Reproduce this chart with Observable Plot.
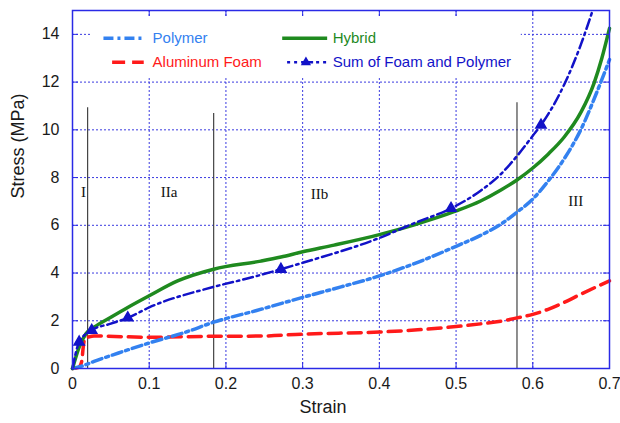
<!DOCTYPE html>
<html><head><meta charset="utf-8">
<script src="https://cdn.jsdelivr.net/npm/d3@7"></script>
<script src="https://cdn.jsdelivr.net/npm/@observablehq/plot@0.6"></script>
<style>body{margin:0;background:#fff} svg{display:block}</style>
</head><body><div id="chart"></div>
<script>
// ---- data ----
const xTicks = [0, 0.1, 0.2, 0.3, 0.4, 0.5, 0.6, 0.7];
const yTicks = [0, 2, 4, 6, 8, 10, 12, 14];

const polymerStrain = [0, 0.012, 0.03, 0.06, 0.1, 0.15, 0.184, 0.24, 0.3, 0.35, 0.4, 0.45, 0.5, 0.532, 0.5585, 0.5794, 0.6, 0.62, 0.641, 0.663, 0.685, 0.7];
const polymerStress = [0, 0.1, 0.32, 0.65, 1.07, 1.55, 1.94, 2.43, 2.98, 3.42, 3.88, 4.45, 5.12, 5.58, 6.05, 6.55, 7.1, 7.85, 8.79, 10.03, 11.7, 12.94];

const foamStrain = [0, 0.008, 0.012, 0.014, 0.016, 0.022, 0.028, 0.1, 0.184, 0.2456, 0.3, 0.4, 0.45, 0.5, 0.532, 0.5585, 0.5794, 0.6, 0.62, 0.641, 0.663, 0.7];
const foamStress = [0, 0.05, 0.3, 0.9, 1.25, 1.33, 1.36, 1.31, 1.35, 1.36, 1.44, 1.53, 1.62, 1.76, 1.87, 1.98, 2.12, 2.27, 2.48, 2.77, 3.12, 3.67];

const hybridStrain = [0, 0.0087, 0.0175, 0.028, 0.05, 0.072, 0.1, 0.137, 0.184, 0.2456, 0.2717, 0.3, 0.341, 0.4, 0.4456, 0.5, 0.532, 0.5585, 0.5794, 0.6, 0.62, 0.641, 0.663, 0.68, 0.69, 0.7];
const hybridStress = [0, 0.9, 1.46, 1.73, 2.15, 2.56, 3.05, 3.67, 4.16, 4.5, 4.67, 4.89, 5.17, 5.61, 6.02, 6.6, 7.02, 7.48, 7.9, 8.4, 8.98, 9.7, 10.75, 11.97, 13.0, 14.25];

const sumStrain = [0, 0.0087, 0.025, 0.05, 0.072, 0.1, 0.184, 0.2326, 0.2717, 0.3, 0.4, 0.4456, 0.4934, 0.532, 0.5585, 0.5794, 0.6, 0.6107, 0.641, 0.663, 0.678];
const sumStress = [0, 1.11, 1.6, 1.88, 2.12, 2.56, 3.42, 3.81, 4.16, 4.43, 5.47, 6.09, 6.71, 7.45, 8.15, 8.9, 9.75, 10.2, 11.9, 13.6, 15.0];

const sumMarkerStrain = [0.0087, 0.025, 0.072, 0.2717, 0.4934, 0.6107];
const sumMarkerStress = [1.11, 1.6, 2.12, 4.16, 6.71, 10.2];

const phaseStrain = [0.0197, 0.184, 0.5794];
const phaseTop = [10.93, 10.68, 11.14];

const regionLabels = ["I", "IIa", "IIb", "III"];
const regionStrain = [0.0145, 0.126, 0.322, 0.656];
const regionStress = [7.37, 7.37, 7.3, 7.0];

const seriesNames = ["Polymer", "Aluminum Foam", "Hybrid", "Sum of Foam and Polymer"];

// ---- styles ----
const colPolymer = "#3381f0", colFoam = "#ff1a1a", colHybrid = "#1f8a1f", colSum = "#1212c8";
const frameColor = "#2a2ae6", gridColor = "#3a3ae0";
const toRows = (xs, ys) => xs.map((x, i) => ({x, y: ys[i]}));

const W = 620, H = 423, mL = 72, mR = 11, mT = 10, mB = 55;
const innerW = W - mL - mR, innerH = H - mT - mB, tickLen = 6;

const legend = [
  {name: seriesNames[0], color: colPolymer, dash: "10,4,3,4", width: 3.5, x1: 0.041, x2: 0.0914, tx: 0.1044, y: 13.84},
  {name: seriesNames[1], color: colFoam, dash: "13,7", width: 3.5, x1: 0.0523, x2: 0.0935, tx: 0.1044, y: 12.83},
  {name: seriesNames[2], color: colHybrid, dash: null, width: 3.5, x1: 0.274, x2: 0.3326, tx: 0.3391, y: 13.84},
  {name: seriesNames[3], color: colSum, dash: "3,4,3,4,12,3", width: 2.5, x1: 0.2804, x2: 0.3326, tx: 0.3391, y: 12.83, marker: 0.3043}
];

const fmt = d => String(+d.toFixed(1));

const chart = Plot.plot({
  width: W, height: H,
  marginLeft: mL, marginRight: mR, marginTop: mT, marginBottom: mB,
  style: {fontFamily: "'Liberation Sans', Arial, Helvetica, sans-serif", fontSize: "16px", background: "white", color: "#1a1a1a"},
  x: {domain: [0, 0.7], ticks: xTicks, tickFormat: fmt, tickSize: 0, tickPadding: 9, label: null},
  y: {domain: [0, 15], ticks: yTicks, tickSize: 0, tickPadding: 13, label: null},
  marks: [
    Plot.ruleX(xTicks, {x: d => d, stroke: gridColor, strokeWidth: 1, strokeDasharray: "2,2"}),
    Plot.ruleY(yTicks, {y: d => d, stroke: gridColor, strokeWidth: 1, strokeDasharray: "2,2"}),
    Plot.rect([0], {x1: () => 0.026, x2: () => 0.585, y1: () => 12.15, y2: () => 14.72, fill: "white"}),
    Plot.ruleX(phaseStrain.map((s, i) => ({x: s, top: phaseTop[i]})), {x: "x", y1: () => 0, y2: "top", stroke: "#444", strokeWidth: 1.2}),
    Plot.line(toRows(foamStrain, foamStress), {x: "x", y: "y", stroke: colFoam, strokeWidth: 3.5, strokeDasharray: "13,7", curve: "monotone-x"}),
    Plot.line(toRows(polymerStrain, polymerStress), {x: "x", y: "y", stroke: colPolymer, strokeWidth: 3.5, strokeDasharray: "10,4,3,4", curve: "monotone-x"}),
    Plot.line(toRows(hybridStrain, hybridStress), {x: "x", y: "y", stroke: colHybrid, strokeWidth: 3.5, curve: "monotone-x"}),
    Plot.line(toRows(sumStrain, sumStress), {x: "x", y: "y", stroke: colSum, strokeWidth: 2.5, strokeDasharray: "10,4,2.5,4", curve: "monotone-x"}),
    Plot.dot(toRows(sumMarkerStrain, sumMarkerStress), {x: "x", y: "y", symbol: "triangle", r: 3.8, fill: colSum, stroke: colSum}),
    Plot.text(regionLabels.map((t, i) => ({t, x: regionStrain[i], y: regionStress[i]})), {x: "x", y: "y", text: "t", fontFamily: "'Liberation Serif', 'Times New Roman', serif", fontSize: 15, fill: "#111"}),
    Plot.frame({stroke: frameColor, strokeWidth: 1.5}),
    Plot.ruleX(xTicks, {x: d => d, insetTop: innerH - tickLen, stroke: frameColor, strokeWidth: 1}),
    Plot.ruleX(xTicks, {x: d => d, insetBottom: innerH - tickLen, stroke: frameColor, strokeWidth: 1}),
    Plot.ruleY(yTicks, {y: d => d, insetRight: innerW - tickLen, stroke: frameColor, strokeWidth: 1}),
    Plot.ruleY(yTicks, {y: d => d, insetLeft: innerW - tickLen, stroke: frameColor, strokeWidth: 1}),
    ...legend.flatMap(e => [
      Plot.ruleY([e], {y: "y", x1: "x1", x2: "x2", stroke: e.color, strokeWidth: e.width, strokeDasharray: e.dash}),
      Plot.text([e], {x: "tx", y: "y", text: "name", fill: e.color, textAnchor: "start", fontSize: 15}),
      ...(e.marker ? [Plot.dot([e], {x: "marker", y: "y", symbol: "triangle", r: 3.8, fill: e.color})] : [])
    ]),
    Plot.text(["Strain"], {frameAnchor: "bottom", dx: -18, dy: 44, text: d => d, fontSize: 18, fill: "#1a1a1a"}),
    Plot.text(["Stress (MPa)"], {frameAnchor: "left", rotate: -90, dx: -54, dy: 9, text: d => d, fontSize: 18, fill: "#1a1a1a"})
  ]
});
document.getElementById("chart").append(chart);
</script>
</body></html>
